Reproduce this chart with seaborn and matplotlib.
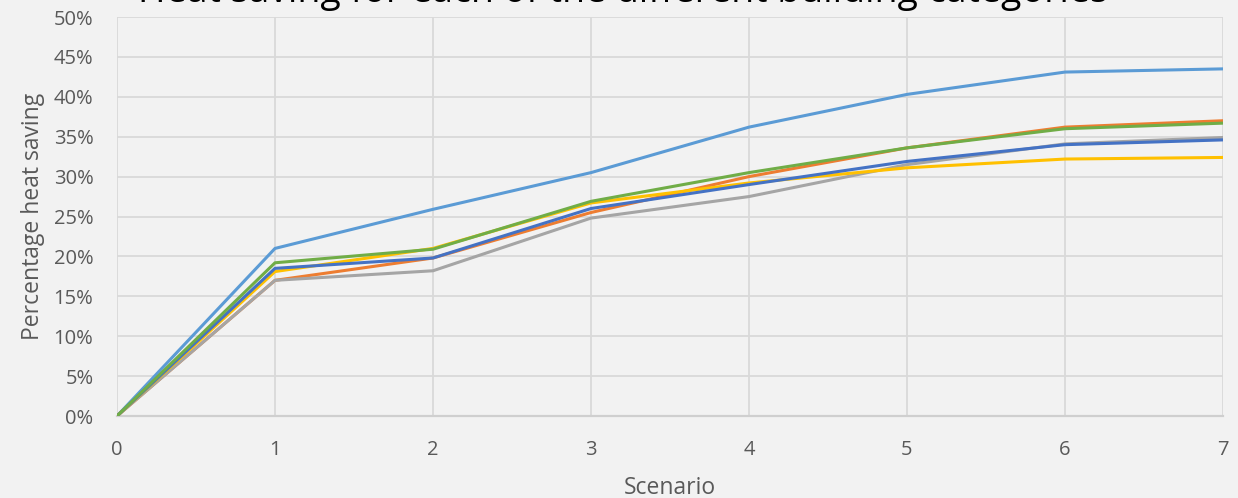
import matplotlib
matplotlib.use("Agg")
import matplotlib.pyplot as plt
from matplotlib.ticker import PercentFormatter, MultipleLocator
import seaborn as sns
import pandas as pd

# Heat saving (%) per scenario for each building category
scenarios = [0, 1, 2, 3, 4, 5, 6, 7]
series_names = ["Series 1", "Series 2", "Series 3", "Series 4", "Series 5", "Series 6"]
s1 = [0, 21.0, 25.9, 30.5, 36.2, 40.3, 43.1, 43.5]
s2 = [0, 17.0, 19.8, 25.5, 30.0, 33.6, 36.2, 37.0]
s3 = [0, 17.0, 18.2, 24.8, 27.5, 31.5, 34.1, 34.9]
s4 = [0, 18.1, 21.0, 26.7, 29.2, 31.1, 32.2, 32.4]
s5 = [0, 18.5, 19.8, 26.0, 29.0, 31.9, 34.0, 34.6]
s6 = [0, 19.2, 20.9, 26.9, 30.5, 33.6, 36.0, 36.7]
colors = ["#5B9BD5", "#ED7D31", "#A5A5A5", "#FFC000", "#4472C4", "#70AD47"]

title_text = "Heat saving for each of the different building categories"
x_label = "Scenario"
y_label = "Percentage heat saving"

rows = []
for name, vals in zip(series_names, [s1, s2, s3, s4, s5, s6]):
    for sc, v in zip(scenarios, vals):
        rows.append({"Scenario": sc, "Saving": v, "Series": name})
df = pd.DataFrame(rows)

sns.set_theme(style="white")
plt.rcParams["font.family"] = ["Open Sans", "DejaVu Sans"]

bg = "#F2F2F2"
grid = "#D9D9D9"
txt = "#595959"

fig = plt.figure(figsize=(12.38, 4.98), dpi=100, facecolor=bg)
ax = fig.add_axes([117 / 1238, 1 - 416 / 498, (1223 - 117) / 1238, (416 - 17) / 498])
ax.set_facecolor(bg)

sns.lineplot(data=df, x="Scenario", y="Saving", hue="Series", palette=colors,
             linewidth=2.2, legend=False, ax=ax, zorder=3)

ax.set_xlim(0, 7)
ax.set_ylim(0, 50)
ax.xaxis.set_major_locator(MultipleLocator(1))
ax.yaxis.set_major_locator(MultipleLocator(5))
ax.yaxis.set_major_formatter(PercentFormatter(decimals=0))
ax.grid(True, color=grid, linewidth=1.3, zorder=0)
ax.set_axisbelow(True)
for side in ["top", "right", "left"]:
    ax.spines[side].set_visible(False)
ax.spines["bottom"].set_color("#CFCFCF")
ax.spines["bottom"].set_linewidth(1.6)
ax.tick_params(axis="both", length=0, labelsize=14.5, colors=txt)
ax.tick_params(axis="x", pad=17)
ax.tick_params(axis="y", pad=17)

ax.set_xlabel(x_label, fontsize=16.5, color=txt, labelpad=12)
ax.set_ylabel(y_label, fontsize=16.5, color=txt, labelpad=6)

fig.text(0.503, 1 - 2 / 498, title_text, ha="center", va="baseline",
         fontsize=27, color="#000000")

fig.savefig("out.png", dpi=100, facecolor=bg)
